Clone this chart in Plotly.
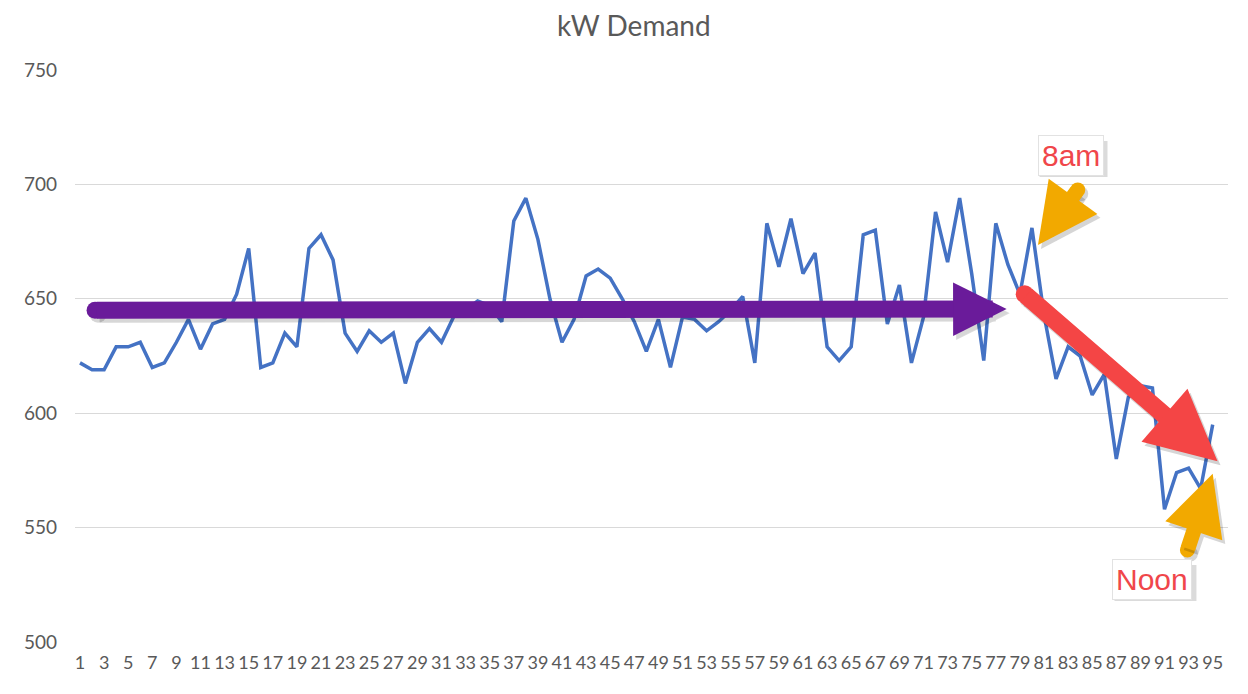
import plotly.graph_objects as go

intervals = list(range(1, 96))
kw_demand = [622, 619, 619, 629, 629, 631, 620, 622, 631, 641,
             628, 639, 641, 652, 672, 620, 622, 635, 629, 672,
             678, 667, 635, 627, 636, 631, 635, 613, 631, 637,
             631, 642, 645, 649, 647, 640, 684, 694, 676, 650,
             631, 641, 660, 663, 659, 650, 640, 627, 641, 620,
             642, 641, 636, 640, 645, 651, 622, 683, 664, 685,
             661, 670, 629, 623, 629, 678, 680, 639, 656, 622,
             642, 688, 666, 694, 661, 623, 683, 665, 652, 681,
             643, 615, 629, 625, 608, 617, 580, 607, 612, 611,
             558, 574, 576, 567, 595]
x_tick_vals = [i for i in intervals if i % 2 == 1]
x_tick_labels = [str(i) for i in x_tick_vals]
y_ticks = [500, 550, 600, 650, 700, 750]

# callout arrows: (tail_x, tail_y, tip_x, tip_y) in data units
flat_arrow = (2.25, 645, 77.9, 645.5)
drop_arrow = (79.4, 652, 95.4, 579)
am_pointer = (83.8, 697.6, 80.5, 673.5)
noon_pointer = (92.9, 540.2, 95.0, 573.5)
# (text, x, y, box width px)
labels = [("8am", 83.2, 712.8, 68), ("Noon", 90.0, 527.5, 82)]

PURPLE = "#6A1B9A"
RED = "#F44545"
ORANGE = "#F2A900"

fig = go.Figure()
fig.add_trace(go.Scatter(x=intervals, y=kw_demand, mode="lines",
                         line=dict(color="#4472C4", width=3.5),
                         showlegend=False, hoverinfo="x+y"))

annots = []
shapes = []

def arrow(spec, color, width, size):
    ax, ay, x, y = spec
    r = width / 2.0
    # soft shadow
    annots.append(dict(x=x + 0.25, y=y - 1.7, ax=ax + 0.25, ay=ay - 1.7,
                       xref="x", yref="y", axref="x", ayref="y", text="",
                       showarrow=True, arrowhead=2, arrowsize=size,
                       arrowwidth=width, arrowcolor="rgba(0,0,0,0.16)"))
    shapes.append(dict(type="circle", xref="x", yref="y", xsizemode="pixel",
                       ysizemode="pixel", xanchor=ax + 0.25, yanchor=ay - 1.7,
                       x0=-r, x1=r, y0=-r, y1=r, fillcolor="rgba(0,0,0,0.16)",
                       line=dict(width=0), layer="above"))
    annots.append(dict(x=x, y=y, ax=ax, ay=ay, xref="x", yref="y",
                       axref="x", ayref="y", text="", showarrow=True,
                       arrowhead=2, arrowsize=size, arrowwidth=width,
                       arrowcolor=color))
    shapes.append(dict(type="circle", xref="x", yref="y", xsizemode="pixel",
                       ysizemode="pixel", xanchor=ax, yanchor=ay,
                       x0=-r, x1=r, y0=-r, y1=r, fillcolor=color,
                       line=dict(width=0), layer="above"))

arrow(flat_arrow, PURPLE, 17, 0.63)
arrow(drop_arrow, RED, 18, 0.78)
arrow(am_pointer, ORANGE, 15, 0.8)
arrow(noon_pointer, ORANGE, 15, 0.8)

for txt, lx, ly, bw in labels:
    # drop shadow of the callout box
    shapes.append(dict(type="rect", xref="x", yref="y", xsizemode="pixel",
                       ysizemode="pixel", xanchor=lx, yanchor=ly,
                       x0=-bw / 2 + 3, x1=bw / 2 + 3, y0=-18 - 4, y1=18 - 4,
                       fillcolor="rgba(0,0,0,0.14)", line=dict(width=0),
                       layer="above"))
    annots.append(dict(x=lx, y=ly, xref="x", yref="y", text=txt,
                       showarrow=False,
                       font=dict(family="Liberation Sans", size=30, color="#F0464A"),
                       bgcolor="white", bordercolor="#e2e2e2", borderwidth=1,
                       borderpad=3))

fig.update_layout(
    width=1232, height=678,
    margin=dict(l=67, r=12, t=62, b=44),
    paper_bgcolor="white", plot_bgcolor="white",
    title=dict(text="kW Demand", x=0.508, xanchor="center", xref="container",
               y=0.973, yanchor="middle", yref="container",
               font=dict(family="Lato", size=28, color="#595959")),
    xaxis=dict(range=[0.585, 96.27], tickmode="array",
               tickvals=x_tick_vals, ticktext=x_tick_labels,
               showgrid=False, zeroline=False, showline=False, ticks="",
               tickfont=dict(family="Lato", size=18, color="#595959"),
               tickangle=0, ticklabelstandoff=8),
    yaxis=dict(range=[500, 750], tickvals=y_ticks, showgrid=True,
               gridcolor="#d9d9d9", gridwidth=1, zeroline=False, showline=False,
               ticks="", tickfont=dict(family="Lato", size=19, color="#595959"),
               ticklabelstandoff=17),
    annotations=annots,
    shapes=shapes,
)

fig.write_html("out.html")
